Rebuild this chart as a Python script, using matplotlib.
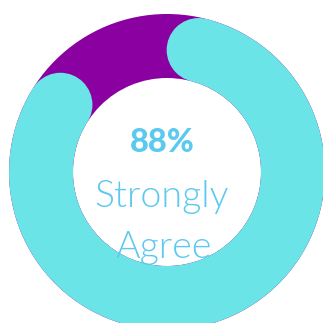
import numpy as np
import matplotlib.pyplot as plt
from matplotlib.patches import Wedge, Circle

# donut data
value = 88
label_pct = "88%"
label_text = ["Strongly", "Agree"]

ring_color = "#8A00A0"
arc_color = "#6BE4E7"
text_color = "#5CC9EE"

W = H = 323
fig = plt.figure(figsize=(W / 100, H / 100), dpi=100)
ax = fig.add_axes([0, 0, 1, 1])
ax.set_xlim(0, W)
ax.set_ylim(0, H)
ax.set_aspect("equal")
ax.axis("off")

cx, cy = 167, H - 172
r_out, r_in = 158, 94
width = r_out - r_in
r_mid = (r_out + r_in) / 2

# background ring
ax.add_patch(Wedge((cx, cy), r_out, 0, 360, width=width, color=ring_color, lw=0))

# value arc, clockwise from top, rounded ends kept inside the arc
span = value / 100 * 360
cap = np.degrees((width / 2) / r_mid)
a_start = cap          # clockwise degrees from 12 o'clock
a_end = span - cap
ax.add_patch(Wedge((cx, cy), r_out, 90 - a_end, 90 - a_start, width=width,
                   color=arc_color, lw=0))
for a in (a_start, a_end):
    t = np.radians(90 - a)
    ax.add_patch(Circle((cx + r_mid * np.cos(t), cy + r_mid * np.sin(t)),
                        width / 2, color=arc_color, lw=0))

ax.text(cx - 5, H - 143, label_pct, ha="center", va="center", color=text_color,
        fontsize=23.5, fontweight=900, family="Lato")
ax.text(cx - 5, H - 207, label_text[0], ha="center", va="baseline", color=text_color,
        fontsize=27, fontweight=300, family="Lato")
ax.text(cx - 3, H - 258, label_text[1], ha="center", va="baseline", color=text_color,
        fontsize=27, fontweight=300, family="Lato")

fig.savefig("out.png", dpi=100)
